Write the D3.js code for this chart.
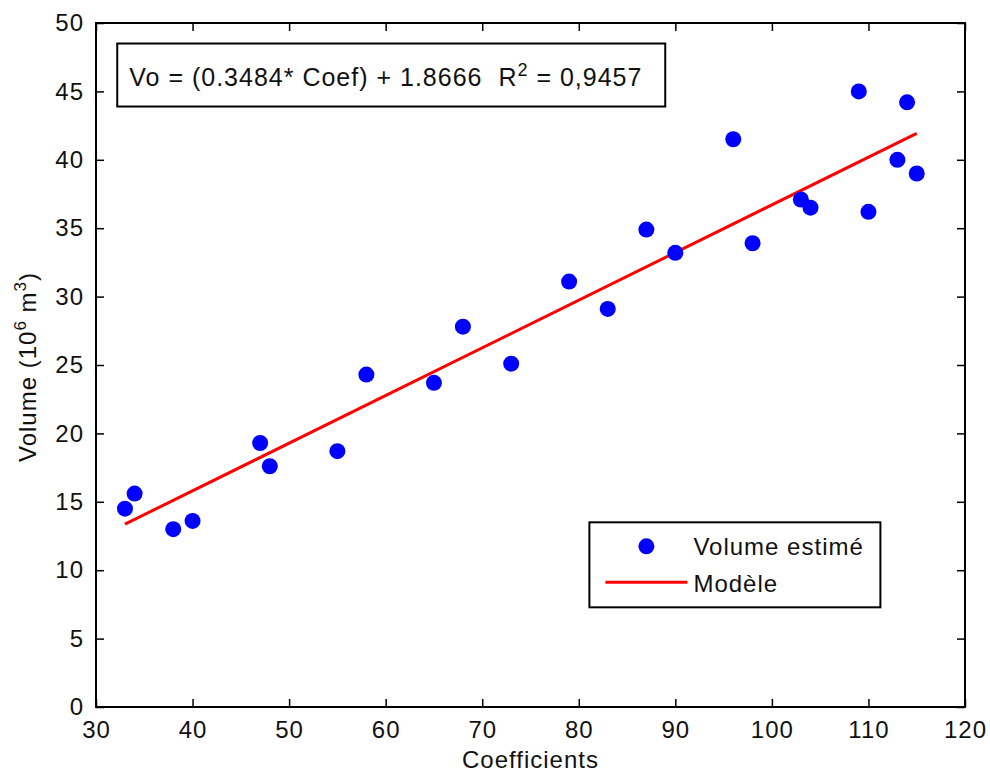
<!DOCTYPE html>
<html>
<head>
<meta charset="utf-8">
<script src="https://cdn.jsdelivr.net/npm/d3@7"></script>
<style>
  body { margin: 0; background: #fff; }
  text { font-family: "Liberation Sans", Arial, sans-serif; fill: #111; letter-spacing: 1px; white-space: pre; }
</style>
</head>
<body>
<div id="chart"></div>
<script>
// data
var coefs   = [33, 34, 38, 40, 47, 48, 55, 58, 65, 68, 73, 79, 83, 87, 90, 96, 98, 103, 104, 109, 110, 113, 114, 115];
var volumes = [14.5, 15.6, 13.0, 13.6, 19.3, 17.6, 18.7, 24.3, 23.7, 27.8, 25.1, 31.1, 29.1, 34.9, 33.2, 41.5, 33.9, 37.1, 36.5, 45.0, 36.2, 40.0, 44.2, 39.0];
var slope = 0.3484, intercept = 1.8666, r2 = "0,9457";
var xTicks = [30, 40, 50, 60, 70, 80, 90, 100, 110, 120];
var yTicks = [0, 5, 10, 15, 20, 25, 30, 35, 40, 45, 50];
var legendLabels = ["Volume estimé", "Modèle"];

var W = 990, H = 781;
var margin = {top: 23, right: 25, bottom: 74, left: 96};
var width = W - margin.left - margin.right,
    height = H - margin.top - margin.bottom;

var svg = d3.select("#chart").append("svg")
    .attr("width", W)
    .attr("height", H);

var g = svg.append("g")
    .attr("transform", "translate(" + margin.left + "," + margin.top + ")");

var x = d3.scaleLinear().domain([30, 120]).range([0, width]);
var y = d3.scaleLinear().domain([0, 50]).range([height, 0]);

var fs = 24;

function styleLabels(a) {
    a.select(".domain").remove();
    a.selectAll("text")
        .style("font-size", fs + "px")
        .style("font-family", "Liberation Sans, Arial")
        .style("letter-spacing", "1px")
        .attr("fill", "#111");
}

// axes (ticks inward, MATLAB style)
var tickLen = 8;
g.append("g").attr("transform", "translate(0," + height + ")")
    .call(d3.axisBottom(x).tickValues(xTicks).tickSize(-tickLen).tickPadding(14).tickFormat(d3.format("d")))
    .call(styleLabels);
g.append("g")
    .call(d3.axisTop(x).tickValues(xTicks).tickSize(-tickLen).tickFormat(""))
    .call(function(a) { a.select(".domain").remove(); });
g.append("g")
    .call(d3.axisLeft(y).tickValues(yTicks).tickSize(-tickLen).tickPadding(12).tickFormat(d3.format("d")))
    .call(styleLabels);
g.append("g").attr("transform", "translate(" + width + ",0)")
    .call(d3.axisRight(y).tickValues(yTicks).tickSize(-tickLen).tickFormat(""))
    .call(function(a) { a.select(".domain").remove(); });
g.selectAll(".tick line").attr("stroke", "#000").attr("stroke-width", 1.5);

g.append("rect")
    .attr("width", width).attr("height", height)
    .attr("fill", "none").attr("stroke", "#000").attr("stroke-width", 2);

// regression line
var xs = [d3.min(coefs), d3.max(coefs)];
g.append("line")
    .attr("x1", x(xs[0])).attr("y1", y(slope * xs[0] + intercept))
    .attr("x2", x(xs[1])).attr("y2", y(slope * xs[1] + intercept))
    .attr("stroke", "#ff0000").attr("stroke-width", 3);

// points
g.selectAll(".pt")
    .data(coefs)
    .enter().append("circle")
    .attr("class", "pt")
    .attr("cx", function(d) { return x(d); })
    .attr("cy", function(d, i) { return y(volumes[i]); })
    .attr("r", 8)
    .attr("fill", "#0000ff");

// equation box
var eq = g.append("g").attr("transform", "translate(" + (x(32.2)) + "," + (y(48.5)) + ")");
eq.append("rect").attr("width", 548).attr("height", 63)
    .attr("fill", "#fff").attr("stroke", "#000").attr("stroke-width", 2);
var eqText = eq.append("text").attr("x", 12).attr("y", 42).style("font-size", "25px");
eqText.append("tspan").text("Vo = (" + slope + "* Coef) + " + intercept + "  R");
eqText.append("tspan").attr("dy", -10).style("font-size", "18px").text("2");
eqText.append("tspan").attr("dy", 10).text(" = " + r2);

// legend
var lg = g.append("g").attr("transform", "translate(" + x(81.1) + "," + y(13.5) + ")");
lg.append("rect").attr("width", 291).attr("height", 85)
    .attr("fill", "#fff").attr("stroke", "#000").attr("stroke-width", 2);
lg.append("circle").attr("cx", 57).attr("cy", 24).attr("r", 8).attr("fill", "#0000ff");
lg.append("line").attr("x1", 16).attr("x2", 98).attr("y1", 60).attr("y2", 60)
    .attr("stroke", "#ff0000").attr("stroke-width", 3);
lg.selectAll(".lt").data(legendLabels).enter().append("text")
    .attr("x", 104).attr("y", function(d, i) { return 33 + i * 37; })
    .style("font-size", fs + "px")
    .text(function(d) { return d; });

// axis labels
svg.append("text")
    .attr("x", margin.left + width / 2).attr("y", 768)
    .attr("text-anchor", "middle").style("font-size", fs + "px")
    .text("Coefficients");
var yl = svg.append("text")
    .attr("transform", "translate(36," + 367 + ") rotate(-90)")
    .attr("text-anchor", "middle").style("font-size", fs + "px");
yl.append("tspan").text("Volume (10");
yl.append("tspan").attr("dy", -10).style("font-size", "17px").text("6");
yl.append("tspan").attr("dy", 10).text(" m");
yl.append("tspan").attr("dy", -10).style("font-size", "17px").text("3");
yl.append("tspan").attr("dy", 10).text(")");
</script>
</body>
</html>
